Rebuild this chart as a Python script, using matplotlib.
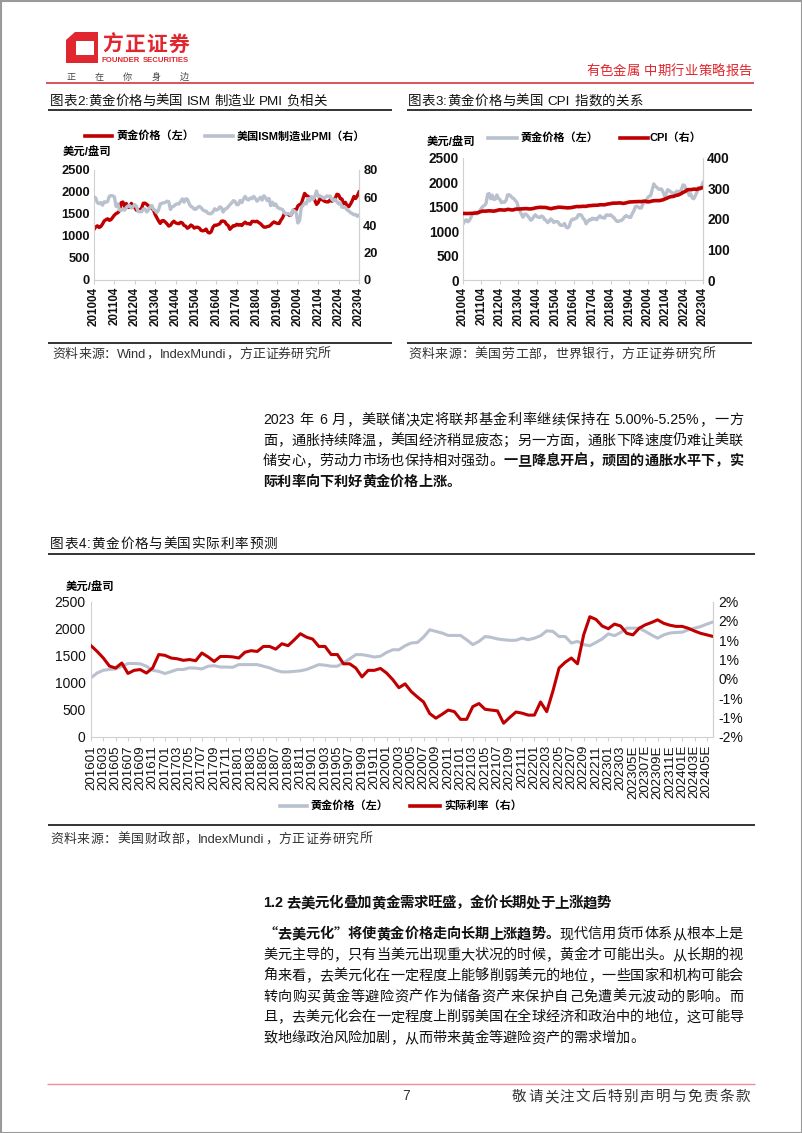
"""Page 7 of a Founder Securities metals report: gold vs PMI, CPI and real rates."""

import re

import numpy as np
import matplotlib
matplotlib.use("Agg")
import matplotlib.pyplot as plt
from matplotlib.patches import Polygon, Rectangle

W, H = 802, 1133
RED = "#c00000"
GREY = "#b9c0ce"
AXC = "#d0d0d0"
BRAND = "#e0262e"

plt.rcParams["font.family"] = ["Liberation Sans", "Noto Sans CJK SC", "DejaVu Sans"]
CJK = ["Noto Sans CJK SC", "DejaVu Sans"]

# ---------- data -----------------------------------------------------------
# monthly, 2010-04 .. 2023-04 (charts 2 and 3)
gold_m = [1149, 1205, 1232, 1193, 1215, 1271, 1343, 1370, 1391,
          1356, 1372, 1424, 1474, 1510, 1528, 1572, 1756, 1772, 1666, 1739, 1652,
          1656, 1742, 1673, 1650, 1585, 1596, 1594, 1630, 1744, 1747, 1722, 1684,
          1671, 1627, 1593, 1487, 1414, 1343, 1286, 1347, 1349, 1316, 1275, 1225,
          1244, 1300, 1336, 1299, 1287, 1279, 1311, 1296, 1239, 1223, 1176, 1200,
          1250, 1227, 1179, 1198, 1199, 1181, 1128, 1117, 1125, 1157, 1086, 1068,
          1097, 1199, 1246, 1243, 1260, 1276, 1337, 1341, 1326, 1266, 1238, 1152,
          1192, 1234, 1231, 1267, 1246, 1260, 1237, 1283, 1315, 1280, 1283, 1265,
          1332, 1331, 1325, 1335, 1304, 1281, 1238, 1202, 1199, 1215, 1221, 1250,
          1291, 1320, 1300, 1285, 1284, 1359, 1413, 1500, 1511, 1495, 1471, 1480,
          1560, 1597, 1591, 1683, 1715, 1732, 1847, 1968, 1921, 1900, 1866, 1858,
          1867, 1808, 1718, 1760, 1850, 1834, 1807, 1785, 1775, 1777, 1821, 1790,
          1817, 1856, 1948, 1937, 1849, 1837, 1733, 1765, 1681, 1665, 1726, 1798,
          1898, 1854, 1912, 1999]

pmi = [60.4, 59.7, 56.2, 55.5, 56.3, 54.4, 56.9, 56.6, 57.0,
       60.8, 61.4, 61.2, 60.4, 53.5, 55.3, 50.9, 50.6, 51.6, 50.8, 52.7, 53.9,
       54.1, 52.4, 53.4, 54.8, 53.5, 49.7, 49.8, 49.6, 51.5, 51.7, 49.5, 50.7,
       53.1, 54.2, 51.3, 50.7, 49.0, 50.9, 55.4, 55.7, 56.2, 56.4, 57.3, 57.0,
       51.3, 53.2, 53.7, 54.9, 55.4, 55.3, 57.1, 59.0, 56.6, 59.0, 58.7, 55.5,
       53.5, 52.9, 51.5, 51.5, 52.8, 53.5, 52.7, 51.1, 50.2, 50.1, 48.6, 48.2,
       48.2, 49.5, 51.8, 50.8, 51.3, 53.2, 52.6, 49.4, 51.5, 51.9, 53.2, 54.7,
       56.0, 57.7, 57.2, 54.8, 54.9, 57.8, 56.3, 58.8, 60.8, 58.7, 58.2, 59.7,
       59.1, 60.8, 59.3, 57.3, 58.7, 60.2, 58.1, 61.3, 59.8, 57.7, 59.3, 54.1,
       56.6, 54.2, 55.3, 52.8, 52.1, 51.7, 51.2, 49.1, 47.8, 48.3, 48.1, 47.2,
       50.9, 50.1, 49.1, 41.5, 43.1, 52.6, 54.2, 56.0, 55.4, 59.3, 57.5, 60.7,
       58.7, 60.8, 64.7, 60.7, 61.2, 60.6, 59.5, 59.9, 61.1, 60.8, 61.1, 58.7,
       57.6, 58.6, 57.1, 55.4, 56.1, 53.0, 52.8, 52.8, 50.9, 50.2, 49.0, 48.4,
       47.4, 47.7, 46.3, 47.1]

cpi = [218.0, 218.2, 218.0, 218.0, 218.3, 218.4, 218.7, 218.8, 219.2,
       220.2, 221.3, 223.5, 224.9, 226.0, 225.7, 225.9, 226.5, 226.9, 226.4, 226.2, 225.7,
       226.7, 227.7, 229.4, 230.1, 229.8, 229.5, 229.1, 230.4, 231.4, 231.3, 230.2, 229.6,
       230.3, 232.2, 232.8, 232.5, 232.9, 233.5, 233.6, 233.9, 234.1, 233.5, 233.1, 233.0,
       233.9, 234.8, 236.3, 237.1, 237.9, 238.3, 238.3, 237.9, 238.0, 237.4, 236.2, 234.8,
       233.7, 234.7, 236.1, 236.6, 237.8, 238.6, 238.7, 238.3, 237.9, 237.8, 237.3, 236.5,
       236.9, 237.1, 238.1, 239.3, 240.2, 241.0, 240.6, 240.8, 241.4, 241.7, 241.4, 241.4,
       242.8, 243.6, 243.8, 244.5, 244.7, 245.0, 244.8, 245.5, 246.8, 246.7, 246.7, 246.5,
       247.9, 249.0, 249.6, 250.5, 251.6, 252.0, 252.0, 252.1, 252.4, 252.9, 252.0, 251.2,
       251.7, 252.8, 254.2, 255.5, 256.1, 256.1, 256.6, 256.6, 256.8, 257.3, 257.2, 257.0,
       258.0, 258.7, 258.1, 256.4, 256.4, 257.8, 259.1, 259.9, 260.3, 260.4, 260.2, 260.5,
       261.6, 263.0, 264.9, 267.1, 269.2, 271.7, 273.0, 273.6, 274.3, 276.6, 277.9, 278.8,
       281.1, 283.7, 287.5, 289.1, 292.3, 296.3, 296.3, 296.2, 296.8, 298.0, 297.7, 296.8,
       299.2, 300.8, 301.8, 303.4]

year_labels = ["201004", "201104", "201204", "201304", "201404", "201504", "201604",
               "201704", "201804", "201904", "202004", "202104", "202204", "202304"]

# monthly, 2016-01 .. 2024-06E (chart 4)
gold4 = [1090, 1180, 1230, 1245, 1255, 1305, 1355, 1355, 1350, 1305, 1230, 1210,
         1170, 1205, 1245, 1245, 1275, 1270, 1255, 1305, 1315, 1290, 1290, 1285,
         1335, 1335, 1335, 1335, 1305, 1275, 1230, 1200, 1200, 1210, 1220, 1245,
         1290, 1335, 1325, 1305, 1305, 1365, 1440, 1520, 1520, 1500, 1475, 1490,
         1560, 1610, 1610, 1685, 1735, 1745, 1845, 1980, 1950, 1920, 1875, 1875,
         1875, 1795, 1705, 1765, 1855, 1840, 1810, 1795, 1785, 1785, 1825, 1795,
         1825, 1870, 1960, 1950, 1855, 1855, 1735, 1765, 1705, 1685, 1745, 1810,
         1905, 1870, 1930, 2010, 2010, 2010, 1950, 1885, 1825, 1885, 1920, 1930,
         1935, 1980, 2010, 2040, 2085, 2125]

real4 = [0.86, 0.71, 0.54, 0.33, 0.28, 0.41, 0.14, 0.22, 0.24, 0.15, 0.28, 0.63,
         0.61, 0.54, 0.52, 0.48, 0.50, 0.47, 0.67, 0.57, 0.45, 0.58, 0.58, 0.57,
         0.54, 0.69, 0.73, 0.71, 0.84, 0.84, 0.77, 0.91, 0.86, 1.01, 1.17, 1.08,
         1.03, 0.84, 0.84, 0.63, 0.63, 0.39, 0.39, 0.28, 0.05, 0.22, 0.22, 0.27,
         0.15, -0.02, -0.23, -0.13, -0.33, -0.47, -0.60, -0.90, -1.02, -0.92, -0.81, -0.85,
         -1.05, -1.05, -0.72, -0.64, -0.79, -0.81, -0.83, -1.15, -1.00, -0.86, -0.89, -0.94,
         -0.94, -0.60, -0.85, -0.32, 0.28, 0.43, 0.54, 0.39, 1.14, 1.61, 1.54, 1.37,
         1.30, 1.42, 1.37, 1.18, 1.14, 1.31, 1.40, 1.46, 1.53, 1.44, 1.39, 1.36,
         1.36, 1.31, 1.24, 1.18, 1.14, 1.10]

month4_labels = ["201601", "201603", "201605", "201607", "201609", "201611",
                 "201701", "201703", "201705", "201707", "201709", "201711",
                 "201801", "201803", "201805", "201807", "201809", "201811",
                 "201901", "201903", "201905", "201907", "201909", "201911",
                 "202001", "202003", "202005", "202007", "202009", "202011",
                 "202101", "202103", "202105", "202107", "202109", "202111",
                 "202201", "202203", "202205", "202207", "202209", "202211",
                 "202301", "202303", "202305E", "202307E", "202309E", "202311E",
                 "202401E", "202403E", "202405E"]
rate_ticks = [-1.5, -1.0, -0.5, 0.0, 0.5, 1.0, 1.5, 2.0]
rate_labels = ["-2%", "-1%", "-1%", "0%", "1%", "1%", "2%", "2%"]

fig = plt.figure(figsize=(W / 100, H / 100), dpi=100)
renderer = fig.canvas.get_renderer()


def box(l, t, r, b):
    return [l / W, 1 - b / H, (r - l) / W, (b - t) / H]


def frame(ax, twin=None):
    ax.spines["top"].set_visible(False)
    for s in ("left", "right", "bottom"):
        ax.spines[s].set_color(AXC)
    if twin is not None:
        for s in ("top", "left", "bottom"):
            twin.spines[s].set_visible(False)
        twin.spines["right"].set_color(AXC)


# ---------- chart 2: gold vs ISM PMI --------------------------------------
x = np.arange(len(gold_m))
ax2 = fig.add_axes(box(94, 170, 359, 280))
ax2.plot(x, gold_m, color=RED, lw=2.4, solid_joinstyle="round")
ax2.set_xlim(0, len(x) - 1)
ax2.set_ylim(0, 2500)
ax2.set_yticks(range(0, 2501, 500))
ax2.set_xticks(range(0, len(x), 12))
ax2.set_xticklabels(year_labels, rotation=90)
t2 = ax2.twinx()
t2.plot(x, pmi, color=GREY, lw=2.4, solid_joinstyle="round")
t2.set_ylim(0, 80)
t2.set_yticks([0, 20, 40, 60, 80])
frame(ax2, t2)

# ---------- chart 3: gold vs CPI ------------------------------------------
ax3 = fig.add_axes(box(463, 158, 703, 280))
ax3.plot(x, gold_m, color=GREY, lw=2.4, solid_joinstyle="round")
ax3.set_xlim(0, len(x) - 1)
ax3.set_ylim(0, 2500)
ax3.set_yticks(range(0, 2501, 500))
ax3.set_xticks(range(0, len(x), 12))
ax3.set_xticklabels(year_labels, rotation=90)
t3 = ax3.twinx()
t3.plot(x, cpi, color=RED, lw=2.6)
t3.set_ylim(0, 400)
t3.set_yticks([0, 100, 200, 300, 400])
frame(ax3, t3)

for a, ysize in ((ax2, 9.3), (t2, 9.3), (ax3, 9.8), (t3, 9.8)):
    a.tick_params(axis="y", length=0, pad=3, labelsize=ysize, labelcolor="#111")
    a.tick_params(axis="x", length=3, color=AXC, pad=2, labelsize=8.4, labelcolor="#111")
    for lab in a.get_xticklabels() + a.get_yticklabels():
        lab.set_fontweight("bold")

# ---------- chart 4: gold vs real rate ------------------------------------
x4 = np.arange(len(gold4))
ax4 = fig.add_axes(box(91, 601.7, 713, 736.7))
ax4.plot(x4, gold4, color=GREY, lw=2.2)
ax4.set_xlim(0, len(x4) - 1)
ax4.set_ylim(0, 2500)
ax4.set_yticks(range(0, 2501, 500))
ax4.set_xticks(range(0, len(x4) - 1, 2))
ax4.set_xticklabels(month4_labels, rotation=90)
t4 = ax4.twinx()
t4.plot(x4, real4, color=RED, lw=2.2)
t4.set_ylim(-1.5, 2.0)
t4.set_yticks(rate_ticks)
t4.set_yticklabels(rate_labels)
frame(ax4, t4)
narrow = ["Liberation Sans Narrow", "Liberation Sans"]
for a in (ax4, t4):
    a.tick_params(axis="y", length=0, pad=4, labelsize=10, labelcolor="#111")
    a.tick_params(axis="x", length=3, color=AXC, pad=3, labelsize=9.6, labelcolor="#111")
    for lab in a.get_xticklabels() + a.get_yticklabels():
        lab.set_family(narrow)

# ---------- page decoration (pixel coordinates) ---------------------------
pg = fig.add_axes([0, 0, 1, 1])
pg.set_xlim(0, W)
pg.set_ylim(H, 0)
pg.axis("off")
pg.patch.set_visible(False)

TOKEN = re.compile(r"[A-Za-z0-9.%\-]+| |.")


def spread(x0, x1, y, parts, size, color="#111", gap=None):
    """One line of text: CJK glyphs on an em grid, latin runs measured,
    justified to x1 unless a fixed gap is given."""
    em = size * 100 / 72
    base = y + 0.36 * em
    items = []
    for s, w in parts:
        for tok in TOKEN.findall(s):
            if tok == " ":
                items.append((None, 0.3 * em))
            elif tok.isascii():
                t = pg.text(0, base, tok, fontsize=size, fontweight=w, color=color,
                            va="baseline", ha="left")
                items.append((t, t.get_window_extent(renderer).width))
            else:
                t = pg.text(0, base, tok, fontsize=size, fontweight=w, color=color,
                            va="baseline", ha="center", family=CJK)
                items.append((t, em))
    if gap is None:
        gap = (x1 - x0 - sum(wd for _, wd in items)) / max(len(items) - 1, 1)
    xx = x0
    for t, wd in items:
        if t is not None:
            t.set_x(xx + wd / 2 if t.get_ha() == "center" else xx)
        xx += wd + gap
    return gap


def hline(x0, x1, y, color="#111", lw=1.2):
    pg.plot([x0, x1], [y, y], color=color, lw=lw, solid_capstyle="butt")


# page border
pg.add_patch(Rectangle((0.5, 0.5), W - 1, H - 1, fill=False, ec="#9a9a9a", lw=1.5))

# logo and header
pg.add_patch(Polygon([(66, 40), (75, 32), (98, 32), (98, 63), (66, 63)], closed=True,
                     fc=BRAND, ec="none"))
pg.add_patch(Polygon([(76, 41), (94, 41), (94, 55), (76, 55)], closed=True,
                     fc="white", ec="none"))
spread(102, 189, 43, [("方正证券", "bold")], 15, color=BRAND)
spread(102, 189, 59.5, [("FOUNDER SECURITIES", "bold")], 5.6, color=BRAND)
spread(66, 189, 76.5, [("正在你身边", "normal")], 6.5, color="#444")
spread(586, 752, 70, [("有色金属 中期行业策略报告", "normal")], 9.6, color=BRAND)
hline(46, 754, 82.5, color="#d8343f", lw=1.2)

# chart 2 furniture
spread(50, 327, 100, [("图表2:黄金价格与美国 ISM 制造业 PMI 负相关", "normal")], 9.7)
hline(48, 392, 109.5)
pg.plot([85, 112], [136, 136], color=RED, lw=2.6)
pg.text(116, 136, "黄金价格（左）", fontsize=8, fontweight="bold", va="center")
pg.plot([205, 233], [136, 136], color=GREY, lw=2.6)
pg.text(237, 136, "美国ISM制造业PMI（右）", fontsize=8, fontweight="bold", va="center")
pg.text(63, 152, "美元/盘司", fontsize=8.2, fontweight="bold", va="center")
hline(48, 392, 343)
spread(52, 330, 353, [("资料来源：Wind，IndexMundi，方正证券研究所", "normal")], 9.3, color="#333")

# chart 3 furniture
spread(408, 643, 100, [("图表3:黄金价格与美国 CPI 指数的关系", "normal")], 9.7)
hline(407, 752, 110)
pg.text(427, 142, "美元/盘司", fontsize=8.2, fontweight="bold", va="center")
pg.plot([488, 517], [138, 138], color=GREY, lw=2.6)
pg.text(520, 138, "黄金价格（左）", fontsize=8, fontweight="bold", va="center")
pg.plot([620, 648], [138, 138], color=RED, lw=2.6)
pg.text(649, 138, "CPI（右）", fontsize=8, fontweight="bold", va="center")
hline(407, 752, 343)
spread(408, 715, 353, [("资料来源：美国劳工部，世界银行，方正证券研究所", "normal")], 9.3, color="#333")

# paragraph 1
para1 = [
    [("2023 年 6 月，美联储决定将联邦基金利率继续保持在 5.00%-5.25%，一方", "normal")],
    [("面，通胀持续降温，美国经济稍显疲态；另一方面，通胀下降速度仍难让美联", "normal")],
    [("储安心，劳动力市场也保持相对强劲。", "normal"), ("一旦降息开启，顽固的通胀水平下，实", "bold")],
    [("际利率向下利好黄金价格上涨。", "bold")],
]
g = 0.0
for i, parts in enumerate(para1):
    last = i == len(para1) - 1
    g = spread(263, 743, 419 + 20.5 * i, parts, 10.2, gap=g if last else None)

# chart 4 furniture
spread(50, 277, 543, [("图表4:黄金价格与美国实际利率预测", "normal")], 9.8)
hline(48, 755, 553.5)
pg.text(66, 587, "美元/盘司", fontsize=8.2, fontweight="bold", va="center")
pg.plot([280, 307], [806, 806], color=GREY, lw=2.6)
pg.text(310, 806, "黄金价格（左）", fontsize=8, fontweight="bold", va="center")
pg.plot([410, 440], [806, 806], color=RED, lw=2.6)
pg.text(444, 806, "实际利率（右）", fontsize=8, fontweight="bold", va="center")
hline(48, 755, 825)
spread(50, 372, 838, [("资料来源：美国财政部，IndexMundi，方正证券研究所", "normal")], 9.3, color="#333")

# section 1.2
spread(263, 611, 902, [("1.2 去美元化叠加黄金需求旺盛，金价长期处于上涨趋势", "bold")], 10.4)
para2 = [
    [("“去美元化”将使黄金价格走向长期上涨趋势。", "bold"), ("现代信用货币体系从根本上是", "normal")],
    [("美元主导的，只有当美元出现重大状况的时候，黄金才可能出头。从长期的视", "normal")],
    [("角来看，去美元化在一定程度上能够削弱美元的地位，一些国家和机构可能会", "normal")],
    [("转向购买黄金等避险资产作为储备资产来保护自己免遭美元波动的影响。而", "normal")],
    [("且，去美元化会在一定程度上削弱美国在全球经济和政治中的地位，这可能导", "normal")],
    [("致地缘政治风险加剧，从而带来黄金等避险资产的需求增加。", "normal")],
]
for i, parts in enumerate(para2):
    last = i == len(para2) - 1
    g = spread(263, 743, 933 + 20.8 * i, parts, 10.2, gap=g if last else None)

# footer
hline(47, 755, 1084, color="#ec8f98", lw=1.0)
pg.text(406, 1096, "7", fontsize=10, color="#333", va="center", ha="center")
spread(512, 750, 1096, [("敬请关注文后特别声明与免责条款", "normal")], 10.5, color="#333")

fig.savefig("out.png", dpi=100)
